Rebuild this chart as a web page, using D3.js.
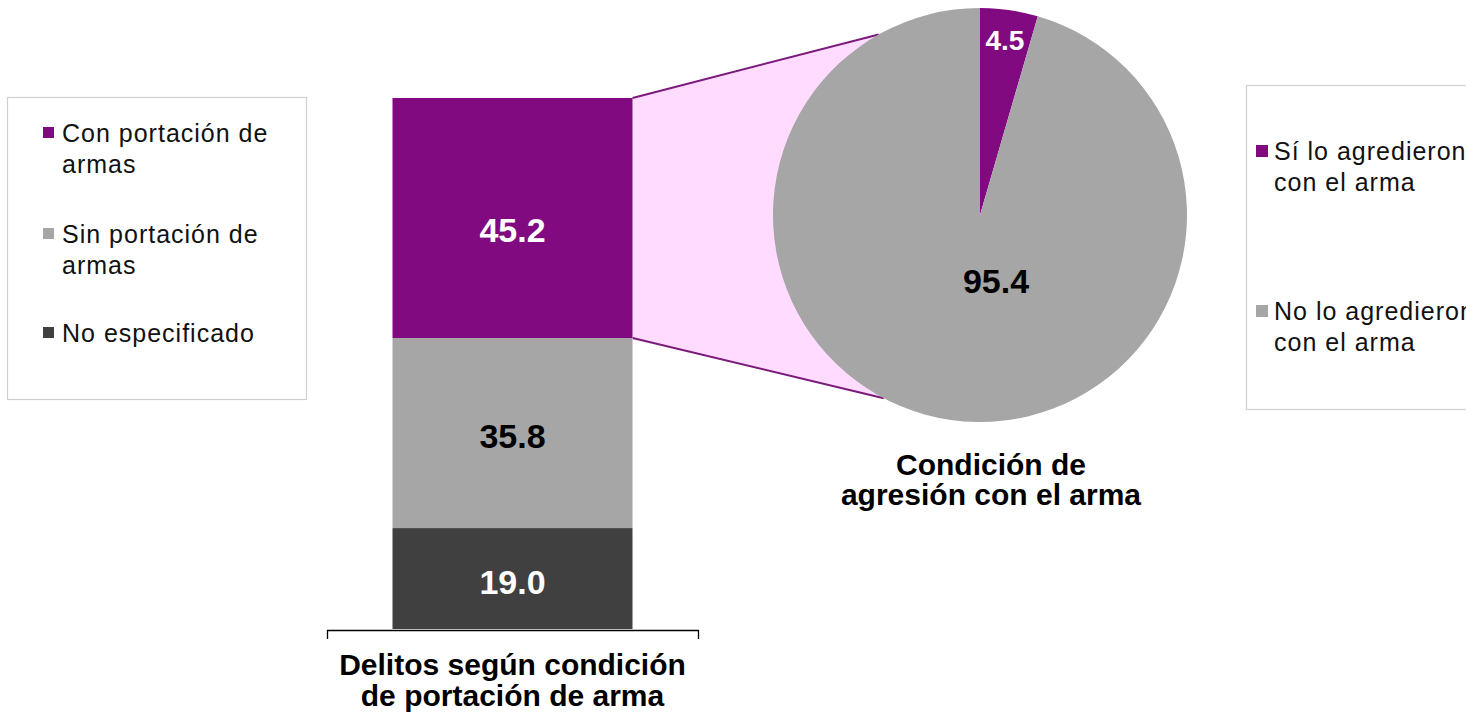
<!DOCTYPE html>
<html>
<head>
<meta charset="utf-8">
<script src="https://cdnjs.cloudflare.com/ajax/libs/d3/7.8.5/d3.min.js"></script>
<style>
  html, body { margin: 0; padding: 0; background: #fff; }
  svg { display: block; font-family: "Liberation Sans", Arial, sans-serif; }
</style>
</head>
<body>
<svg id="chart" width="1466" height="716"></svg>
<script>
// ---- data ----
const barCategory = ["Delitos según condición", "de portación de arma"];
const barSeries = ["Con portación de armas", "Sin portación de armas", "No especificado"];
const barValues = [45.2, 35.8, 19.0];
const barColors = ["#810a81", "#a6a6a6", "#404040"];
const barLabelColors = ["#ffffff", "#000000", "#ffffff"];
const barLegendLines = [["Con portación de", "armas"], ["Sin portación de", "armas"], ["No especificado"]];

const pieTitle = ["Condición de", "agresión con el arma"];
const pieSeries = ["Sí lo agredieron con el arma", "No lo agredieron con el arma"];
const pieValues = [4.5, 95.4];
const pieColors = ["#810a81", "#a6a6a6"];
const pieLabelColors = ["#ffffff", "#000000"];
const pieLegendLines = [["Sí lo agredieron", "con el arma"], ["No lo agredieron", "con el arma"]];

// ---- layout ----
const svg = d3.select("#chart");
const font = "'Liberation Sans', Arial, sans-serif";

// Bar (stacked, single category)
const x = d3.scaleBand().domain([barCategory.join(" ")]).range([327, 698])
  .paddingInner(0.2144).paddingOuter(0.2144);
const y = d3.scaleLinear().domain([0, 100]).range([629, 98]);

let cum = 0;
const stacks = barValues.map((v, i) => {
  const s = { i, v, y0: 100 - cum - v, y1: 100 - cum };
  cum += v;
  return s;
});

// Pie
const cx = 980, cy = 215, R = 207;
const pie = d3.pie().sort(null).value(d => d).startAngle(0).endAngle(2 * Math.PI);
const arcs = pie(pieValues);
const arc = d3.arc().innerRadius(0).outerRadius(R);
const labelArc = d3.arc().innerRadius(177).outerRadius(177);

// connector (zoom) from the purple segment to the pie
const segTop = y(stacks[0].y1), segBot = y(stacks[0].y0);
const bx = x(barCategory.join(" ")) + x.bandwidth();
const angTop = -29.3 * Math.PI / 180, angBot = 207.7 * Math.PI / 180;
const pTop = [cx + R * Math.sin(angTop), cy - R * Math.cos(angTop)];
const pBot = [cx + R * Math.sin(angBot), cy - R * Math.cos(angBot)];

svg.append("path")
  .attr("d", `M${bx},${segTop}L${pTop[0]},${pTop[1]}L${pBot[0]},${pBot[1]}L${bx},${segBot}Z`)
  .attr("fill", "#ffdcff");

svg.append("line").attr("x1", bx).attr("y1", segTop).attr("x2", pTop[0]).attr("y2", pTop[1])
  .attr("stroke", "#7a1a7a").attr("stroke-width", 2);
svg.append("line").attr("x1", bx).attr("y1", segBot).attr("x2", pBot[0]).attr("y2", pBot[1])
  .attr("stroke", "#7a1a7a").attr("stroke-width", 2);

// bars
svg.append("g").selectAll("rect").data(stacks).join("rect")
  .attr("x", x(barCategory.join(" ")))
  .attr("width", x.bandwidth())
  .attr("y", d => y(d.y1))
  .attr("height", d => y(d.y0) - y(d.y1))
  .attr("fill", d => barColors[d.i]);

svg.append("g").selectAll("text").data(stacks).join("text")
  .attr("x", x(barCategory.join(" ")) + x.bandwidth() / 2)
  .attr("y", d => (y(d.y0) + y(d.y1)) / 2 + (d.i === 0 ? 12 : 3))
  .attr("dy", "0.36em")
  .attr("text-anchor", "middle")
  .attr("font-weight", "bold")
  .attr("font-size", 34)
  .attr("fill", d => barLabelColors[d.i])
  .text(d => d.v.toFixed(1));

// axis
const axis = svg.append("g").attr("transform", `translate(0,${y(0) + 1})`)
  .call(d3.axisBottom(x).tickSizeInner(0).tickSizeOuter(9).tickPadding(10));
axis.select(".domain").attr("stroke", "#000").attr("stroke-width", 1.3);
axis.selectAll(".tick text").each(function () {
  const t = d3.select(this);
  t.text(null).attr("font-family", font).attr("font-size", 30).attr("font-weight", "bold")
    .attr("fill", "#000").attr("y", 0).attr("dy", null);
  barCategory.forEach((line, k) => {
    t.append("tspan").attr("x", 0).attr("y", 45 + k * 31).text(line);
  });
});

// pie
const pg = svg.append("g").attr("transform", `translate(${cx},${cy})`);
pg.selectAll("path").data(arcs).join("path")
  .attr("d", arc)
  .attr("fill", (d, i) => pieColors[i]);

pg.append("text")
  .attr("transform", `translate(${labelArc.centroid(arcs[0])})`)
  .attr("dy", "0.36em").attr("text-anchor", "middle")
  .attr("font-weight", "bold").attr("font-size", 28)
  .attr("fill", pieLabelColors[0])
  .text(pieValues[0].toFixed(1));

pg.append("text")
  .attr("x", 16).attr("y", 66)
  .attr("dy", "0.36em").attr("text-anchor", "middle")
  .attr("font-weight", "bold").attr("font-size", 34)
  .attr("fill", pieLabelColors[1])
  .text(pieValues[1].toFixed(1));

// pie title
svg.append("text").attr("text-anchor", "middle")
  .attr("font-weight", "bold").attr("font-size", 30).attr("fill", "#000")
  .selectAll("tspan").data(pieTitle).join("tspan")
  .attr("x", 991).attr("y", (d, k) => 475 + k * 30).text(d => d);

// legends
function legend(box, items, colors, sq, textX, baselines) {
  const g = svg.append("g");
  g.append("rect").attr("x", box[0] + 0.5).attr("y", box[1] + 0.5)
    .attr("width", box[2]).attr("height", box[3])
    .attr("fill", "#fff").attr("stroke", "#d0d0d0").attr("stroke-width", 1.2);
  items.forEach((lines, i) => {
    g.append("rect").attr("x", sq[0]).attr("y", baselines[i] - 15)
      .attr("width", sq[1]).attr("height", sq[1]).attr("fill", colors[i]);
    const t = g.append("text").attr("font-size", 25).attr("fill", "#111")
      .attr("letter-spacing", 1);
    lines.forEach((l, k) => {
      t.append("tspan").attr("x", textX).attr("y", baselines[i] + k * 30.5).text(l);
    });
  });
}

legend([7, 97, 299, 302], barLegendLines, barColors, [43, 11], 62, [142, 243, 342]);
legend([1246, 85, 240, 324], pieLegendLines, pieColors, [1256, 12], 1274, [160, 320]);
</script>
</body>
</html>
